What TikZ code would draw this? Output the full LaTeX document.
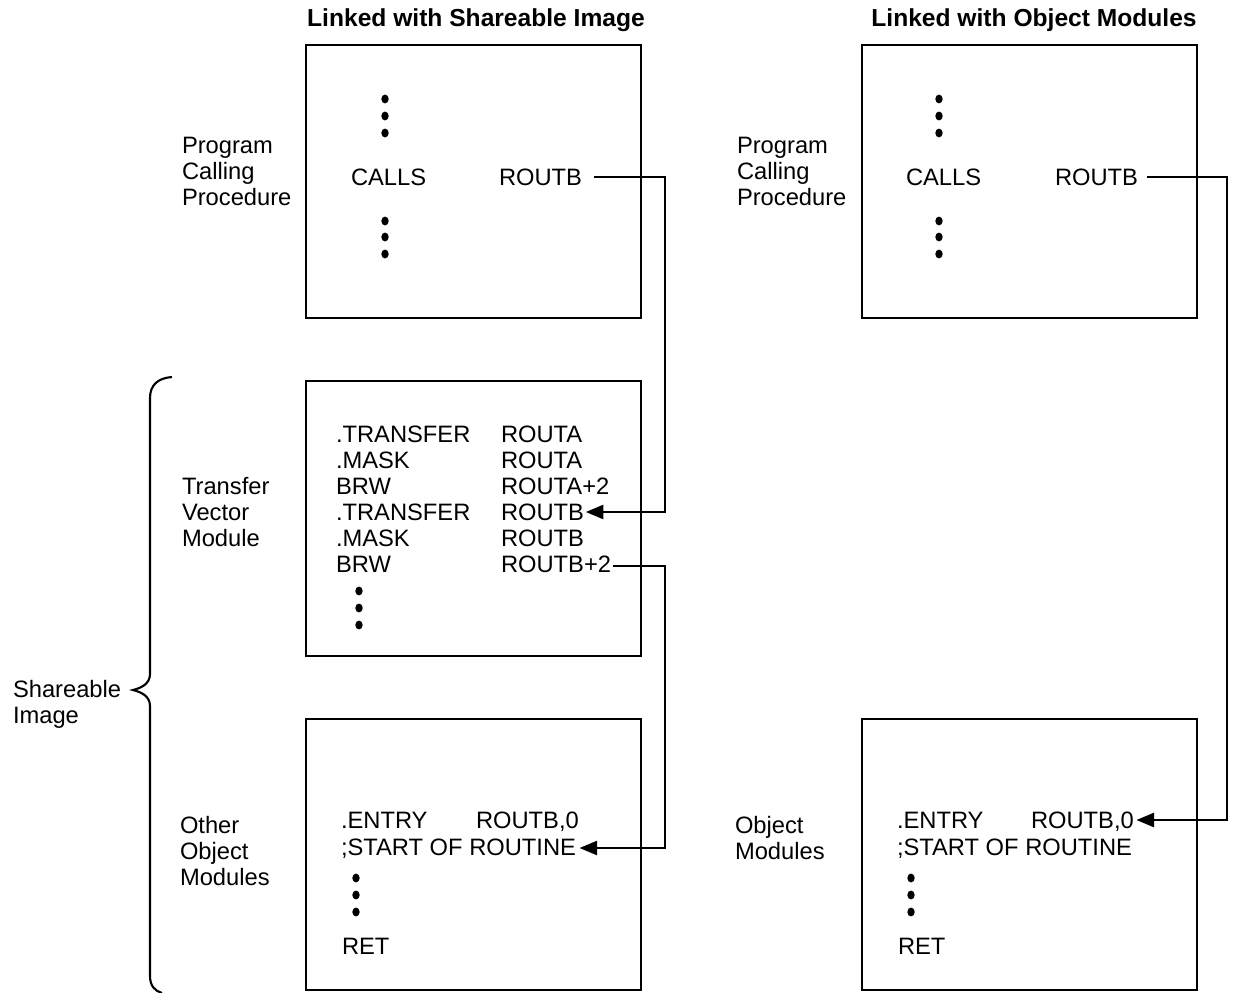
\documentclass[tikz,border=0pt]{standalone}
\usepackage{fontspec}
\setmainfont{Liberation Sans}
\usetikzlibrary{arrows.meta,shapes.geometric}
\begin{document}
\begin{tikzpicture}[x=0.02cm,y=-0.02cm,
  every node/.style={inner sep=0pt,outer sep=0pt,font=\fontsize{13.5}{14.74}\selectfont},
  txt/.style={anchor=base west,align=left},
  ttl/.style={anchor=base,font=\fontsize{14}{15}\selectfont\bfseries},
  frame/.style={line width=1.2pt},
  conn/.style={line width=1.3pt},
  arr/.style={conn,-{Triangle[length=10pt,width=8pt]}},
  dot/.style={fill,ellipse,minimum width=4.2pt,minimum height=5pt}]
\useasboundingbox (0,0) rectangle (1240,993);
% titles
\node[ttl] (t1) at (476,27) {Linked with Shareable Image};
\node[ttl] (t2) at (1034,27) {Linked with Object Modules};
% boxes
\draw[frame] (306,45) rectangle (641,318);
\draw[frame] (862,45) rectangle (1197,318);
\draw[frame] (306,381) rectangle (641,656);
\draw[frame] (306,719) rectangle (641,990);
\draw[frame] (862,719) rectangle (1197,990);
% side labels (anchor at baseline of last line)
\node[txt] (l1) at (182,205.5) {Program\\Calling\\Procedure};
\node[txt] (l2) at (737,205.5) {Program\\Calling\\Procedure};
\node[txt] (l3) at (182,546.5) {Transfer\\Vector\\Module};
\node[txt] (l4) at (180,885.5) {Other\\Object\\Modules};
\node[txt] (l5) at (735,859.5) {Object\\Modules};
\node[txt] (l6) at (13,723.5) {Shareable\\Image};
% brace
\draw[frame] (172,377) .. controls (158,378) and (150,385) .. (150,398)
  -- (150,674) .. controls (150,684) and (141,688) .. (133,690)
  .. controls (141,692) and (150,696) .. (150,706)
  -- (150,976) .. controls (150,986) and (155,991) .. (162,993);
% top-left box
\foreach \y [count=\i] in {99,116,133,221,237,254} \node[dot] (da\i) at (385,\y) {};
\node[txt] (c1) at (351,185.5) {CALLS};
\node[txt] (r1) at (499,185.5) {ROUTB};
% top-right box
\foreach \y [count=\i] in {99,116,133,221,237,254} \node[dot] (db\i) at (939,\y) {};
\node[txt] (c2) at (906,185.5) {CALLS};
\node[txt] (r2) at (1055,185.5) {ROUTB};
% middle box
\node[txt] (m1) at (336,442.5) {.TRANSFER};
\node[txt] (m2) at (336,468.5) {.MASK};
\node[txt] (m3) at (336,494.5) {BRW};
\node[txt] (m4) at (336,520.5) {.TRANSFER};
\node[txt] (m5) at (336,546.5) {.MASK};
\node[txt] (m6) at (336,572.5) {BRW};
\node[txt] (n1) at (501,442.5) {ROUTA};
\node[txt] (n2) at (501,468.5) {ROUTA};
\node[txt] (n3) at (501,494.5) {ROUTA+2};
\node[txt] (n4) at (501,520.5) {ROUTB};
\node[txt] (n5) at (501,546.5) {ROUTB};
\node[txt] (n6) at (501,572.5) {ROUTB+2};
\foreach \y [count=\i] in {591,608,625} \node[dot] (dm\i) at (359,\y) {};
% bottom-left box
\node[txt] (e1) at (341,828.5) {.ENTRY};
\node[txt] (e2) at (476,828.5) {ROUTB,0};
\node[txt] (s1) at (341,855.5) {;START OF ROUTINE};
\foreach \y [count=\i] in {878,895,912} \node[dot] (dc\i) at (356,\y) {};
\node[txt] (ret1) at (342,954.5) {RET};
% bottom-right box
\node[txt] (f1) at (897,828.5) {.ENTRY};
\node[txt] (f2) at (1031,828.5) {ROUTB,0};
\node[txt] (s2) at (897,855.5) {;START OF ROUTINE};
\foreach \y [count=\i] in {878,895,912} \node[dot] (dd\i) at (911,\y) {};
\node[txt] (ret2) at (898,954.5) {RET};
% connector coordinates
\coordinate (k1) at (665,0);
\coordinate (k2) at (1227,0);
\coordinate (ya) at (0,177);
\coordinate (yb) at (0,512);
\coordinate (yc) at (0,566);
\coordinate (yd) at (0,848);
\coordinate (ye) at (0,820);
% connectors
\draw[arr] ([xshift=7pt]r1.east |- ya) -- (k1 |- ya) -- (k1 |- yb) -- ([xshift=1pt]n4.east |- yb);
\draw[arr] ([xshift=1pt]n6.east |- yc) -- (k1 |- yc) -- (k1 |- yd) -- ([xshift=2pt]s1.east |- yd);
\draw[arr] ([xshift=5pt]r2.east |- ya) -- (k2 |- ya) -- (k2 |- ye) -- ([xshift=1.5pt]f2.east |- ye);
\end{tikzpicture}
\end{document}
